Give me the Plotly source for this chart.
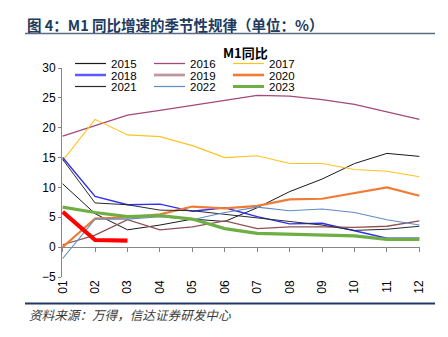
import plotly.graph_objects as go

# ---------------- data ----------------
months = ["01", "02", "03", "04", "05", "06", "07", "08", "09", "10", "11", "12"]
s2015 = [10.6, 5.6, 2.9, 3.7, 4.7, 4.3, 6.6, 9.3, 11.4, 14.0, 15.7, 15.2]
s2016 = [18.6, 20.3, 22.1, 22.9, 23.7, 24.6, 25.4, 25.3, 24.7, 23.9, 22.7, 21.4]
s2017 = [14.5, 21.4, 18.8, 18.5, 17.0, 15.0, 15.3, 14.0, 14.0, 13.0, 12.7, 11.8]
s2018 = [15.0, 8.5, 7.1, 7.2, 6.0, 6.6, 5.1, 3.9, 4.0, 2.7, 1.5, 1.5]
s2019 = [0.4, 2.0, 4.6, 2.9, 3.4, 4.4, 3.1, 3.4, 3.4, 3.3, 3.5, 4.4]
s2020 = [0.0, 4.8, 5.0, 5.5, 6.8, 6.5, 6.9, 8.0, 8.1, 9.1, 10.0, 8.6]
s2021 = [14.7, 7.4, 7.1, 6.2, 6.1, 5.5, 4.9, 4.2, 3.7, 2.8, 3.0, 3.5]
s2022 = [-1.9, 4.7, 4.7, 5.1, 4.6, 5.8, 6.7, 6.1, 6.4, 5.8, 4.6, 3.7]
s2023 = [6.7, 5.8, 5.1, 5.3, 4.7, 3.1, 2.3, 2.2, 2.1, 1.9, 1.3, 1.3]
s2024 = [5.9, 1.2, 1.1]

series = [
    ("2015", s2015), ("2016", s2016), ("2017", s2017),
    ("2018", s2018), ("2019", s2019), ("2020", s2020),
    ("2021", s2021), ("2022", s2022), ("2023", s2023),
    ("2024", s2024),
]

# ---------------- styles ----------------
colors = {
    "2015": "#1a1a1a", "2016": "#A3487A", "2017": "#FFC31F",
    "2018": "#2E2EF5", "2019": "#8E5156", "2020": "#F07B35",
    "2021": "#2b2b2b", "2022": "#5F8CC6", "2023": "#6FAE45",
    "2024": "#FF0000",
}
widths = {
    "2015": 1.0, "2016": 1.3, "2017": 1.1, "2018": 1.4, "2019": 1.3,
    "2020": 2.2, "2021": 1.0, "2022": 1.1, "2023": 3.2, "2024": 4.2,
}
legend_widths = {
    "2015": 1.2, "2016": 1.3, "2017": 1.2, "2018": 2.5, "2019": 2.8,
    "2020": 2.6, "2021": 1.2, "2022": 1.2, "2023": 3.0,
}
legend_colors = dict(colors)
legend_colors["2018"] = "#5A5AFF"
legend_colors["2019"] = "#BC98A0"

W, H = 448, 337
L, R, T, B = 62, 28, 68, 60
PW = W - L - R
PH = H - T - B


def px(x):
    return (x - L) / PW


def py(y):
    return (H - B - y) / PH


FONT = "Liberation Sans, Arial, Noto Sans CJK SC, sans-serif"
CJK = "Noto Sans CJK SC, Liberation Sans, sans-serif"

fig = go.Figure()
xs = list(range(len(months)))
for name, vals in series:
    fig.add_trace(go.Scatter(
        x=xs[:len(vals)], y=vals, mode="lines", name=name,
        line=dict(color=colors[name], width=widths[name]),
        showlegend=False,
        xaxis="x2" if name == "2024" else "x",
        hoverinfo="skip",
    ))

xr = [-0.02, len(months) - 1 + 0.02]
fig.update_layout(
    width=W, height=H,
    margin=dict(l=L, r=R, t=T, b=B, pad=0),
    paper_bgcolor="white", plot_bgcolor="white",
    font=dict(family=FONT, size=12, color="#000000"),
    xaxis=dict(
        range=xr, tickmode="array", tickvals=xs, ticktext=months,
        tickangle=-90, showline=False, ticks="", showgrid=False,
        zeroline=False, tickfont=dict(size=12, color="#000"),
        ticklabelstandoff=0,
    ),
    xaxis2=dict(
        range=xr, overlaying="x", anchor="free", position=5 / 35,
        tickmode="array", tickvals=xs, showticklabels=False,
        ticks="outside", ticklen=4, tickcolor="#868686", tickwidth=1,
        showline=True, linecolor="#868686", linewidth=1,
        showgrid=False, zeroline=False,
    ),
    yaxis=dict(
        range=[-5, 30], dtick=5, tick0=0, showline=True,
        linecolor="#868686", linewidth=1, ticks="outside", ticklen=3,
        tickcolor="#868686", showgrid=False, zeroline=False,
        tickfont=dict(size=12, color="#000"),
    ),
)

annotations = []
shapes = []

# Header title and rule
annotations.append(dict(
    text="<b>图 4：M1 同比增速的季节性规律（单位：%）</b>",
    xref="paper", yref="paper", x=px(25), y=py(25),
    xanchor="left", yanchor="middle", showarrow=False,
    font=dict(family=CJK, size=14.5, color="#223A5E"),
))
shapes.append(dict(type="line", xref="paper", yref="paper",
                   x0=px(25), x1=px(435), y0=py(33.5), y1=py(33.5),
                   line=dict(color="#5A6A82", width=1.6)))

# Chart title
annotations.append(dict(
    text="<b>M1同比</b>", xref="paper", yref="paper",
    x=px(245), y=py(52), xanchor="center", yanchor="middle",
    showarrow=False, font=dict(family=CJK, size=13, color="#000"),
))

# Compact legend (3 columns x 3 rows)
legend_names = [n for n, _ in series if n != "2024"]
col_x = [75, 154, 233]
row_y = [63.5, 75.0, 86.5]
for i, name in enumerate(legend_names):
    r, c = divmod(i, 3)
    x0 = col_x[c]
    yy = row_y[r]
    shapes.append(dict(type="line", xref="paper", yref="paper",
                       x0=px(x0), x1=px(x0 + 31), y0=py(yy), y1=py(yy),
                       line=dict(color=legend_colors[name],
                                 width=legend_widths[name])))
    annotations.append(dict(
        text=name, xref="paper", yref="paper", x=px(x0 + 34), y=py(yy + 0.5),
        xanchor="left", yanchor="middle", showarrow=False,
        font=dict(family=FONT, size=11.5, color="#000"),
    ))

# Footer rule and source
shapes.append(dict(type="line", xref="paper", yref="paper",
                   x0=px(25), x1=px(435), y0=py(303.5), y1=py(303.5),
                   line=dict(color="#1F3864", width=1.8)))
annotations.append(dict(
    text="<i>资料来源：万得，信达证券研发中心</i>",
    xref="paper", yref="paper", x=px(27), y=py(314),
    xanchor="left", yanchor="middle", showarrow=False,
    font=dict(family=CJK, size=12.6, color="#3a3a3a"),
))

fig.update_layout(annotations=annotations, shapes=shapes)
fig.write_html("out.html")
